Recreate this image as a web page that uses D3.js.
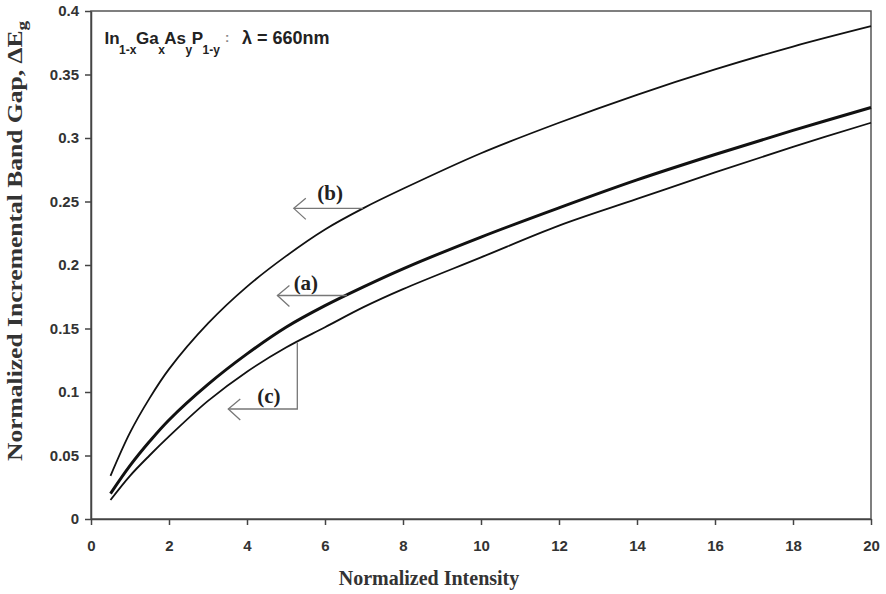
<!DOCTYPE html>
<html>
<head>
<meta charset="utf-8">
<script src="https://cdn.jsdelivr.net/npm/d3@7"></script>
<style>
  body { margin: 0; background: #fff; }
  .axis path, .axis line { stroke: #444; stroke-width: 1.5; }
  .axis text { font-family: "Liberation Sans", Arial, sans-serif; font-weight: bold; font-size: 15px; fill: #333; }
  .curve { fill: none; stroke: #111; }
  .lead { fill: none; stroke: #777; stroke-width: 1.3; }
  .tag { font-family: "Liberation Serif", "Times New Roman", serif; font-weight: bold; font-size: 21px; fill: #222; }
  .title { font-family: "Liberation Sans", Arial, sans-serif; font-weight: bold; fill: #222; }
  .label { font-family: "Liberation Serif", "Times New Roman", serif; font-weight: bold; font-size: 20px; fill: #333; }
</style>
</head>
<body>
<div id="chart"></div>
<script>
(function() {
  // values
  var intensity = [0.5, 1, 1.5, 2, 3, 4, 5, 6, 7, 8, 10, 12, 14, 16, 18, 20];
  var gapA = [0.020, 0.042, 0.061, 0.078, 0.106, 0.130, 0.151, 0.168, 0.183, 0.197, 0.222, 0.245, 0.267, 0.287, 0.306, 0.324];
  var gapB = [0.034, 0.068, 0.095, 0.118, 0.154, 0.183, 0.207, 0.228, 0.245, 0.260, 0.288, 0.312, 0.334, 0.354, 0.372, 0.388];
  var gapC = [0.015, 0.034, 0.050, 0.065, 0.093, 0.116, 0.135, 0.151, 0.167, 0.181, 0.206, 0.231, 0.252, 0.273, 0.293, 0.312];

  var xTicks = [0, 2, 4, 6, 8, 10, 12, 14, 16, 18, 20];
  var yTicks = [0, 0.05, 0.1, 0.15, 0.2, 0.25, 0.3, 0.35, 0.4];

  // leader arrows: label, tip x, corner x, line y, curve y (for the bent one)
  var tags = [
    { name: '(b)', tipX: 5.2, endX: 6.97, y: 0.2446, endY: 0.2446, lx: 6.13, ly: 0.251 },
    { name: '(a)', tipX: 4.78, endX: 6.56, y: 0.176, endY: 0.176, lx: 5.51, ly: 0.180 },
    { name: '(c)', tipX: 3.52, endX: 5.29, y: 0.0866, endY: 0.139, lx: 4.56, ly: 0.091 }
  ];

  function translate(x, y) {
    return 'translate(' + x + ',' + y + ')';
  }

  var W = 886, H = 594,
      margin = { top: 11, right: 15, bottom: 75, left: 91 },
      width = W - margin.left - margin.right,
      height = H - margin.top - margin.bottom;

  var x = d3.scaleLinear().domain([0, 20]).range([0, width]),
      y = d3.scaleLinear().domain([0, 0.4]).range([height, 0]);

  var svg = d3.select('#chart').append('svg')
      .attr('width', W)
      .attr('height', H)
    .append('g')
      .attr('transform', translate(margin.left, margin.top));

  // frame
  svg.append('rect')
    .attr('width', width)
    .attr('height', height)
    .attr('fill', 'none')
    .attr('stroke', '#555')
    .attr('stroke-width', 1.5);

  svg.append('g')
    .attr('class', 'x axis')
    .attr('transform', translate(0, height))
    .call(d3.axisBottom(x).tickValues(xTicks).tickSize(6).tickSizeOuter(0).tickPadding(15));

  svg.append('g')
    .attr('class', 'y axis')
    .call(d3.axisLeft(y).tickValues(yTicks).tickFormat(d3.format('~g')).tickSize(6).tickSizeOuter(0).tickPadding(6));

  var series = [
    { values: gapB, w: 1.8 },
    { values: gapA, w: 3 },
    { values: gapC, w: 1.8 }
  ];

  var line = d3.line()
      .x(function(d, i) { return x(intensity[i]); })
      .y(function(d) { return y(d); })
      .curve(d3.curveCatmullRom);

  svg.selectAll('.curve')
    .data(series)
    .enter().append('path')
      .attr('class', 'curve')
      .attr('stroke-width', function(d) { return d.w; })
      .attr('d', function(d) { return line(d.values); });

  // leader arrows
  tags.forEach(function(t) {
    var tx = x(t.tipX), ex = x(t.endX), ly = y(t.y), cy = y(t.endY);
    var d = 'M' + ex + ',' + cy + 'L' + ex + ',' + ly + 'L' + tx + ',' + ly;
    svg.append('path').attr('class', 'lead').attr('d', d);
    svg.append('path').attr('class', 'lead')
      .attr('d', 'M' + (tx + 12) + ',' + (ly - 10) + 'L' + tx + ',' + ly + 'L' + (tx + 12) + ',' + (ly + 11));
    svg.append('text').attr('class', 'tag')
      .attr('x', x(t.lx))
      .attr('y', y(t.ly))
      .attr('text-anchor', 'middle')
      .text(t.name);
  });

  // compound label
  var title = svg.append('text')
    .attr('class', 'title')
    .attr('x', 14)
    .attr('y', 33);
  var parts = [['In', 0], ['1-x', 1], ['Ga', 0], ['x', 1], ['As', 0], ['y', 1], ['P', 0], ['1-y', 1]];
  parts.forEach(function(p, i) {
    title.append('tspan')
      .attr('dy', p[1] ? 10 : (i ? -10 : 0))
      .attr('dx', -0.5)
      .style('font-size', p[1] ? '12px' : '17px')
      .text(p[0]);
  });
  svg.append('text')
    .attr('class', 'title')
    .attr('x', 134)
    .attr('y', 31)
    .style('font-size', '13px')
    .style('fill', '#888')
    .text(':');
  svg.append('text')
    .attr('class', 'title')
    .attr('x', 151)
    .attr('y', 33)
    .style('font-size', '18px')
    .text('λ = 660nm');

  // axis titles
  svg.append('text')
    .attr('class', 'label')
    .attr('x', 338)
    .attr('y', height + 66)
    .attr('text-anchor', 'middle')
    .text('Normalized Intensity');

  var yl = svg.append('text')
    .attr('class', 'label')
    .attr('transform', translate(-69, 230) + ' rotate(-90)')
    .attr('text-anchor', 'middle')
    .attr('textLength', 440)
    .attr('lengthAdjust', 'spacingAndGlyphs');
  yl.append('tspan').text('Normalized Incremental Band Gap, ΔE');
  yl.append('tspan').attr('dy', 5).style('font-size', '15px').text('g');
})();
</script>
</body>
</html>
